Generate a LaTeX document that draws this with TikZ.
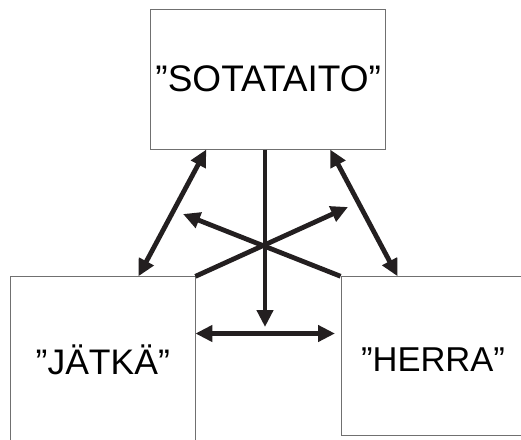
\documentclass[tikz,border=0pt]{standalone}
\usepackage{fontspec}
\setmainfont{Liberation Sans}
\usetikzlibrary{positioning,arrows.meta}
\definecolor{ink}{HTML}{231F20}
\definecolor{frame}{HTML}{707070}

\begin{document}
\begin{tikzpicture}[x=1pt, y=-1pt,
  box/.style={draw=frame, line width=0.9pt, fill=white, inner sep=0pt},
  link/.style={draw=ink, line width=4.8pt},
  tip/.style={-{Triangle[length=17pt,width=16pt]}},
  both/.style={{Triangle[length=17pt,width=16pt]}-{Triangle[length=17pt,width=16pt]}}]
\useasboundingbox (0,0) rectangle (521,439);
\clip (0,0) rectangle (521,439);

\node[box, minimum width=235pt, minimum height=139.7pt, font=\fontsize{37}{40}\selectfont] (sota) at (268.2,79.2) {”SOTATAITO”};
\node[box, minimum width=184.3pt, minimum height=166pt, font=\fontsize{35.5}{38}\selectfont] (jatka) at (102.8,359.8) {”JÄTKÄ”};
\node[box, minimum width=184pt, minimum height=159pt, font=\fontsize{34.5}{38}\selectfont] (herra) at (433,356.2) {\raisebox{-3pt}[\height][\depth]{”HERRA”}};

\coordinate (mid) at (265,245);
\coordinate (kl) at (183,214);
\coordinate (kr) at (348,207);
\coordinate (down) at (265,327);
\coordinate (hz) at (335,333.5);

\draw[link, both] ([xshift=56pt]sota.south west) -- ([xshift=-57pt]jatka.north east);
\draw[link, both] ([xshift=-56pt]sota.south east) -- ([xshift=57pt]herra.north west);
\draw[link, tip] (sota.south -| mid) -- (down);
\draw[link, tip] (jatka.north east) -- (kr);
\draw[link, tip] (herra.north west) -- (kl);
\draw[link, both] (jatka.east |- hz) -- (hz);
\end{tikzpicture}
\end{document}
